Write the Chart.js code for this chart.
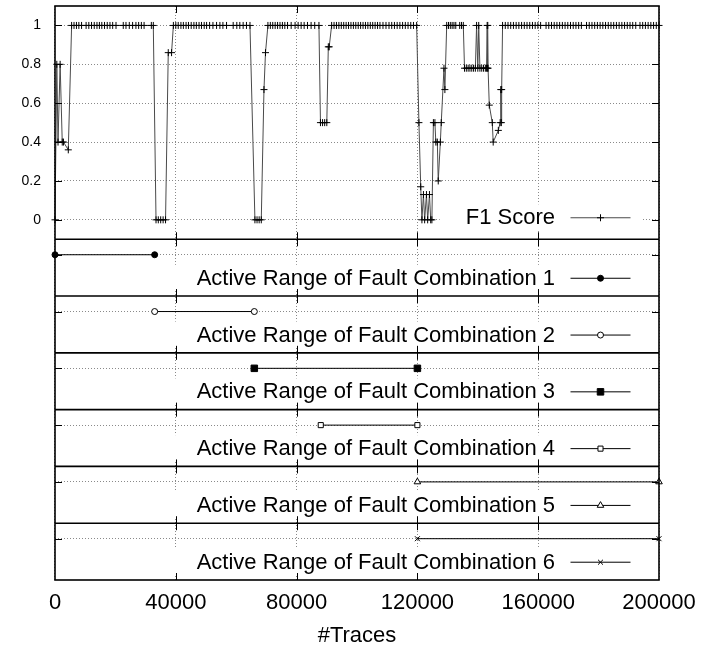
<!DOCTYPE html>
<html>
<head>
<meta charset="utf-8">
<script src="https://cdn.jsdelivr.net/npm/chart.js@4"></script>
<style>
  html, body { margin: 0; padding: 0; background: #fff; }
  canvas { display: block; }
</style>
</head>
<body>
<canvas id="chart" width="724" height="650"></canvas>
<script>
// x positions (#Traces) of the F1 samples, grouped by stretch
const traces = [
    0, 600, 1000, 1700, 2400, 2800, 4400,
    5500, 6300, 7100, 7900, 8800, 10300, 11200, 12100, 13000,
    13900, 14700, 15500, 16400, 17300, 18200, 19100, 20200, 22600,
    23500, 24600, 25700, 26800, 27700, 28600, 29500, 31900, 32550,
    33450, 34200, 35000, 35800, 36600, 37500, 38600,
    39200, 40000, 40800, 41700, 42500, 43400, 44200, 45100, 46000,
    46800, 47700, 48500, 49400, 50200, 51200, 52300, 53500, 54600,
    55600, 56800, 59000, 60200, 61200, 62300, 63400, 64560,
    66200, 66900, 67600, 68300, 69200, 69700,
    70500, 71300, 72100, 72900, 73700, 74500, 75300, 76100, 77000,
    78200, 79500, 80500, 81500, 82500, 83600, 84800, 86000, 87400,
    87900, 88600, 89300, 90000, 90500, 90800,
    91600, 92400, 93200, 94000, 94800, 95600, 96400, 97200, 98000,
    98800, 99600, 100400, 101200, 102000, 102800, 103600, 104400, 105200,
    106000, 106800, 107600, 108600, 109600, 110600, 111500, 112400, 113300,
    114200, 115100, 116000, 116900, 117800, 118700, 119750,
    120500, 121100, 121500, 122000, 122400, 123000, 123400, 124000, 124400, 124800,
    125300, 125800, 126100, 126600, 126900, 127600, 127900, 128800, 129100,
    129700, 130300, 130900, 131500, 132100, 132700, 134000, 134600, 135200,
    135600, 136200, 136800, 137400, 138000, 138600, 139200, 139600, 140000,
    140300, 140700, 141300, 141900, 142500, 142900, 143100, 143200, 143300,
    143400, 143800, 144800, 145100, 146800, 147400, 147600, 147800, 147900,
    148200, 149100, 150000, 150900, 151800, 152700, 153600, 154500, 155400,
    156300, 157200, 158100, 159000, 159900, 160800, 162600, 163500, 164400,
    165300, 166200, 167100, 168000, 168900, 169800, 170700, 171600, 172500,
    173400, 174300, 176000, 176900, 177800, 178700, 179600, 180500, 181400,
    182300, 183200, 184100, 185000, 185900, 186800, 187700, 188600, 189500,
    190400, 191300, 192300, 193700, 194600, 195500, 196400, 197300, 198200,
    199100, 200000,
];

const f1 = [
    0, 0.8, 0.4, 0.8, 0.4, 0.4, 0.36,
    1, 1, 1, 1, 1, 1, 1, 1, 1,
    1, 1, 1, 1, 1, 1, 1, 1, 1,
    1, 1, 1, 1, 1, 1, 1, 1, 1,
    0, 0, 0, 0, 0, 0.86, 0.86,
    1, 1, 1, 1, 1, 1, 1, 1, 1,
    1, 1, 1, 1, 1, 1, 1, 1, 1,
    1, 1, 1, 1, 1, 1, 1, 1,
    0, 0, 0, 0, 0.67, 0.86,
    1, 1, 1, 1, 1, 1, 1, 1, 1,
    1, 1, 1, 1, 1, 1, 1, 1, 1,
    0.5, 0.5, 0.5, 0.5, 0.89, 0.89,
    1, 1, 1, 1, 1, 1, 1, 1, 1,
    1, 1, 1, 1, 1, 1, 1, 1, 1,
    1, 1, 1, 1, 1, 1, 1, 1, 1,
    1, 1, 1, 1, 1, 1, 1,
    0.5, 0.17, 0, 0.13, 0, 0.13, 0, 0.13, 0, 0,
    0.5, 0.5, 0.4, 0.4, 0.2, 0.4, 0.5, 0.78, 0.67,
    1, 1, 1, 1, 1, 1, 1, 1, 1,
    0.78, 0.78, 0.78, 0.78, 0.78, 0.78, 0.78, 1, 0.78,
    1, 0.78, 0.78, 0.78, 0.78, 0.78, 1, 0.78, 1,
    0.78, 0.59, 0.5, 0.4, 0.46, 0.5, 0.67, 0.5, 0.67,
    1, 1, 1, 1, 1, 1, 1, 1, 1,
    1, 1, 1, 1, 1, 1, 1, 1, 1,
    1, 1, 1, 1, 1, 1, 1, 1, 1,
    1, 1, 1, 1, 1, 1, 1, 1, 1,
    1, 1, 1, 1, 1, 1, 1, 1, 1,
    1, 1, 1, 1, 1, 1, 1, 1, 1,
    1, 1,
];

const rangeLabels = [
    'Active Range of Fault Combination 1',
    'Active Range of Fault Combination 2',
    'Active Range of Fault Combination 3',
    'Active Range of Fault Combination 4',
    'Active Range of Fault Combination 5',
    'Active Range of Fault Combination 6',
];
const rangeStart = [0, 33000, 66000, 88000, 120000, 120000];
const rangeEnd = [33000, 66000, 120000, 120000, 200000, 200000];
const rangeLevel = 0.8;

const xTicks = [0, 40000, 80000, 120000, 160000, 200000];
const f1Ticks = [0, 0.2, 0.4, 0.6, 0.8, 1];

if (traces.length !== f1.length) console.error('length mismatch', traces.length, f1.length);

const fontFamily = '"Liberation Sans", Arial, Helvetica, sans-serif';
Chart.defaults.font.family = fontFamily;
Chart.defaults.color = '#000';

const gridColor = '#8a8a8a';
const keyFont = '22px ' + fontFamily;

const f1Marker = { pointStyle: 'cross', radius: 3.5, fill: '#000' };
const markers = [
    { pointStyle: 'circle',   radius: 3,   fill: '#000' },
    { pointStyle: 'circle',   radius: 3,   fill: '#fff' },
    { pointStyle: 'rect',     radius: 4.6, fill: '#000' },
    { pointStyle: 'rect',     radius: 3.6, fill: '#fff' },
    { pointStyle: 'triangle', radius: 3.8, fill: '#fff' },
    { pointStyle: 'crossRot', radius: 3.5, fill: '#fff' },
];

const panelIds = rangeLabels.map((_, i) => 'r' + (i + 1));

const datasets = [{
    label: 'F1 Score',
    data: traces.map((t, i) => ({ x: t, y: f1[i] })),
    yAxisID: 'yF1',
    showLine: true,
    borderColor: '#4a4a4a',
    borderWidth: 1,
    pointStyle: f1Marker.pointStyle,
    pointRadius: f1Marker.radius,
    pointBorderColor: '#000',
    pointBorderWidth: 1,
    clip: false,
}];

rangeLabels.forEach((label, i) => {
    datasets.push({
        label,
        data: [{ x: rangeStart[i], y: rangeLevel }, { x: rangeEnd[i], y: rangeLevel }],
        yAxisID: panelIds[i],
        showLine: true,
        borderColor: '#000',
        borderWidth: 1,
        pointStyle: markers[i].pointStyle,
        pointRadius: markers[i].radius,
        pointBackgroundColor: markers[i].fill,
        pointBorderColor: '#000',
        pointBorderWidth: 1,
        clip: false,
    });
});

const dotted = { display: false, dash: [1, 2] };

// y axes all get the same fixed width and no label overhang padding
const fitLeft = s => {
    s.width = 55;
    s.paddingTop = 0;
    s.paddingBottom = 0;
};

const scales = {
    x: {
        type: 'linear',
        min: 0,
        max: 200000,
        afterBuildTicks: s => { s.ticks = xTicks.map(v => ({ value: v })); },
        afterFit: s => { s.height = 70; },
        ticks: { font: { size: 22 }, padding: 10, callback: v => String(v) },
        grid: { color: gridColor, drawTicks: false },
        border: dotted,
        title: { display: true, text: '#Traces', font: { size: 22 }, padding: { top: 0, bottom: 1 } },
    },
    yF1: {
        type: 'linear',
        position: 'left',
        stack: 'panels',
        stackWeight: 233.3,
        weight: 10,
        min: -0.1,
        max: 1.1,
        afterBuildTicks: s => { s.ticks = f1Ticks.map(v => ({ value: v })); },
        afterFit: fitLeft,
        ticks: { font: { size: 14 }, padding: 14, callback: v => String(v) },
        grid: { color: gridColor, drawTicks: false },
        border: dotted,
    },
};

panelIds.forEach((id, i) => {
    scales[id] = {
        type: 'linear',
        position: 'left',
        stack: 'panels',
        stackWeight: 56.8,
        weight: 9 - i,
        min: 0,
        max: 1.1,
        afterBuildTicks: s => { s.ticks = [{ value: rangeLevel }]; },
        afterFit: fitLeft,
        ticks: { display: false },
        grid: { color: gridColor, drawTicks: false },
        border: dotted,
    };
});

function drawMarker(ctx, m, x, y) {
    const r = m.radius;
    ctx.beginPath();
    if (m.pointStyle === 'circle') {
        ctx.arc(x, y, r, 0, Math.PI * 2);
        ctx.fillStyle = m.fill;
        ctx.fill();
        ctx.stroke();
    } else if (m.pointStyle === 'rect') {
        const h = r * Math.SQRT1_2;
        ctx.rect(x - h, y - h, 2 * h, 2 * h);
        ctx.fillStyle = m.fill;
        ctx.fill();
        ctx.stroke();
    } else if (m.pointStyle === 'triangle') {
        ctx.moveTo(x - r * 0.866, y + r / 2);
        ctx.lineTo(x, y - r);
        ctx.lineTo(x + r * 0.866, y + r / 2);
        ctx.closePath();
        ctx.fillStyle = m.fill;
        ctx.fill();
        ctx.stroke();
    } else if (m.pointStyle === 'cross') {
        ctx.moveTo(x - r, y); ctx.lineTo(x + r, y);
        ctx.moveTo(x, y - r); ctx.lineTo(x, y + r);
        ctx.stroke();
    } else {
        const d = r * Math.SQRT1_2;
        ctx.moveTo(x - d, y - d); ctx.lineTo(x + d, y + d);
        ctx.moveTo(x + d, y - d); ctx.lineTo(x - d, y + d);
        ctx.stroke();
    }
}

// one key per panel, sitting in the lower part of the panel
function keyItems(chart) {
    const right = chart.chartArea.right;
    const items = [{ label: 'F1 Score', y: chart.scales.yF1.bottom - 22, marker: f1Marker, line: '#4a4a4a' }];
    panelIds.forEach((id, i) => {
        items.push({ label: rangeLabels[i], y: chart.scales[id].top + 38.5, marker: markers[i], line: '#000' });
    });
    items.forEach(k => {
        k.textRight = right - 104;
        k.sampleFrom = right - 88.5;
        k.sampleTo = right - 28.5;
    });
    return items;
}

const panelDecor = {
    id: 'panelDecor',
    beforeDatasetsDraw(chart) {
        const { ctx } = chart;
        ctx.save();
        ctx.font = keyFont;
        ctx.fillStyle = '#fff';
        keyItems(chart).forEach(k => {
            const w = ctx.measureText(k.label).width;
            const left = k.textRight - w - 26;
            ctx.fillRect(left, k.y - 13, k.sampleTo + 12 - left, 26);
        });
        ctx.restore();
    },
    afterDatasetsDraw(chart) {
        const { ctx, chartArea: area } = chart;
        const x = chart.scales.x;
        const panels = [chart.scales.yF1].concat(panelIds.map(id => chart.scales[id]));
        ctx.save();

        // inward tick marks
        ctx.strokeStyle = '#000';
        ctx.lineWidth = 1;
        ctx.beginPath();
        panels.forEach((s, i) => {
            const yVals = i === 0 ? f1Ticks : [rangeLevel];
            yVals.forEach(v => {
                const py = Math.round(s.getPixelForValue(v)) + 0.5;
                ctx.moveTo(area.left, py); ctx.lineTo(area.left + 7, py);
                ctx.moveTo(area.right, py); ctx.lineTo(area.right - 7, py);
            });
            xTicks.slice(1, -1).forEach(v => {
                const px = Math.round(x.getPixelForValue(v)) + 0.5;
                ctx.moveTo(px, s.top); ctx.lineTo(px, s.top + 7);
                ctx.moveTo(px, s.bottom); ctx.lineTo(px, s.bottom - 7);
            });
        });
        ctx.stroke();

        // frame and panel separators
        ctx.lineWidth = 1.6;
        ctx.strokeRect(area.left, area.top, area.right - area.left, area.bottom - area.top);
        ctx.beginPath();
        panels.slice(1).forEach(s => {
            ctx.moveTo(area.left, s.top);
            ctx.lineTo(area.right, s.top);
        });
        ctx.stroke();

        // keys
        ctx.font = keyFont;
        ctx.textAlign = 'right';
        ctx.textBaseline = 'middle';
        keyItems(chart).forEach(k => {
            ctx.fillStyle = '#000';
            ctx.fillText(k.label, k.textRight, k.y + 1);
            ctx.lineWidth = 1;
            ctx.strokeStyle = k.line;
            ctx.beginPath();
            ctx.moveTo(k.sampleFrom, k.y + 0.5);
            ctx.lineTo(k.sampleTo, k.y + 0.5);
            ctx.stroke();
            ctx.strokeStyle = '#000';
            drawMarker(ctx, k.marker, (k.sampleFrom + k.sampleTo) / 2, k.y + 0.5);
        });
        ctx.restore();
    },
};

new Chart(document.getElementById('chart'), {
    type: 'scatter',
    data: { datasets },
    options: {
        responsive: false,
        animation: false,
        devicePixelRatio: 1,
        layout: { padding: { left: 0, right: 65, top: 6, bottom: 0 } },
        plugins: { legend: { display: false }, tooltip: { enabled: false } },
        scales,
    },
    plugins: [panelDecor],
});
</script>
</body>
</html>
